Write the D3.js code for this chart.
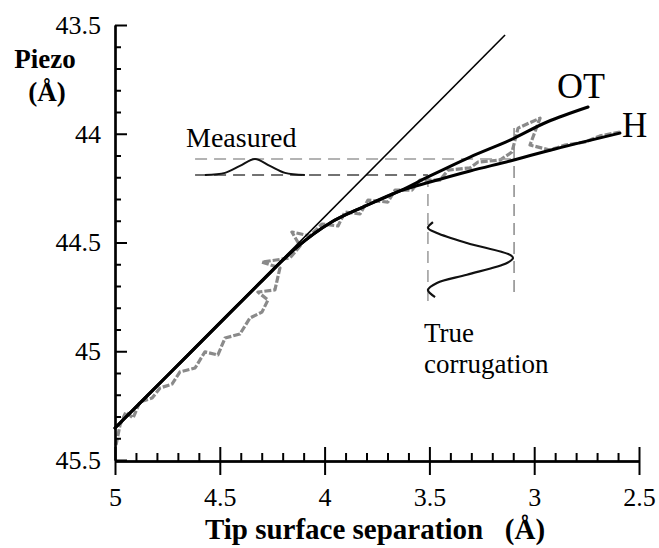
<!DOCTYPE html>
<html><head><meta charset="utf-8">
<script src="https://cdn.jsdelivr.net/npm/d3@7"></script>
<style>
body{margin:0;background:#fff}
text{font-family:"Liberation Serif","Times New Roman",serif;fill:#000}
</style>
</head><body>
<svg id="c" width="659" height="548"></svg>
<script>
// ---- tick values / labels
const xMajor = [5, 4.5, 4, 3.5, 3, 2.5];
const yMajor = [43.5, 44, 44.5, 45, 45.5];

// ---- model curves (Tip surface separation Å, Piezo Å)
const sepCommon   = [5, 4.752, 4.485, 4.294, 4.132, 3.974, 3.817, 3.640];
const piezoCommon = [45.353, 45.114, 44.856, 44.672, 44.521, 44.410, 44.337, 44.263];
const sepOT   = [3.497, 3.306, 3.115, 2.939, 2.743];
const piezoOT = [44.194, 44.107, 44.029, 43.946, 43.877];
const sepH    = [3.497, 3.306, 3.115, 2.901, 2.591];
const piezoH  = [44.222, 44.171, 44.125, 44.070, 43.997];
const sepLinear   = [5, 3.139];
const piezoLinear = [45.353, 43.546];

// ---- measured trace (gray)
const sepData = [4.995,4.976,4.948,4.914,4.881,4.823,4.785,4.728,4.690,4.618,4.571,4.509,4.475,4.404,4.356,4.299,4.270,4.318,4.237,4.213,4.299,4.165,4.117,4.156,4.070,4.012,3.936,3.903,3.831,3.793,3.698,3.664,3.583,3.545,3.449,3.411,3.306,3.268,3.163,3.106,3.077,2.972,3.020,2.925,2.853,2.758,2.686,2.591];
const piezoData = [45.431,45.339,45.279,45.307,45.233,45.215,45.169,45.151,45.095,45.077,45.003,45.017,44.939,44.921,44.847,44.820,44.764,44.728,44.718,44.617,44.590,44.571,44.516,44.452,44.470,44.415,44.424,44.360,44.369,44.305,44.314,44.259,44.259,44.213,44.213,44.167,44.157,44.130,44.121,44.084,43.974,43.928,44.052,44.075,44.052,44.038,44.010,43.992];

// ---- annotation guides
const measuredHi = 44.116, measuredLo = 44.190;
const trueLeft = 3.507, trueRight = 3.096;
const guideStartSep = 4.618;
const sepMeasured   = [4.571, 4.475, 4.404, 4.332, 4.261, 4.189, 4.094];
const piezoMeasured = [44.190, 44.180, 44.148, 44.116, 44.148, 44.180, 44.190];
const sepTrue   = [3.483, 3.507, 3.464, 3.321, 3.115, 3.101, 3.130, 3.321, 3.464, 3.507, 3.473];
const piezoTrue = [44.406, 44.433, 44.456, 44.502, 44.557, 44.571, 44.594, 44.648, 44.686, 44.718, 44.751];

const svg = d3.select("#c");
const x = d3.scaleLinear().domain([5, 2.5]).range([115, 639]);
const y = d3.scaleLinear().domain([43.5, 45.5]).range([25, 460]);

const xMinor = d3.range(1, 25).map(i => +(5 - i * 0.1).toFixed(1)).filter(v => !xMajor.includes(v));
const yMinor = d3.range(1, 20).map(i => +(43.5 + i * 0.1).toFixed(1)).filter(v => !yMajor.includes(v));

const zip = (a, b) => a.map((v, i) => [v, b[i]]);
const line = d3.line().x(d => x(d[0])).y(d => y(d[1]));

// measured data trace
svg.append("path").attr("d", line(zip(sepData, piezoData)))
  .attr("fill", "none").attr("stroke", "#8a8a8a").attr("stroke-width", 3.2)
  .attr("stroke-dasharray", "7,2").attr("stroke-linejoin", "round");

// dashed guides
const g = svg.append("g").attr("fill", "none").attr("stroke-width", 1.5).attr("stroke-dasharray", "12,7");
g.append("path").attr("d", line([[guideStartSep, measuredHi], [trueRight, measuredHi]])).attr("stroke", "#9a9a9a");
g.append("path").attr("d", line([[guideStartSep, measuredLo], [trueLeft, measuredLo]])).attr("stroke", "#444");
g.append("path").attr("d", line([[trueLeft, measuredLo], [trueLeft, 44.787]])).attr("stroke", "#9a9a9a");
g.append("path").attr("d", line([[trueRight, 43.974], [trueRight, 44.741]])).attr("stroke", "#8a8a8a");

// gaussians
const smooth = d3.line().x(d => x(d[0])).y(d => y(d[1])).curve(d3.curveCatmullRom);
svg.append("path").attr("d", smooth(zip(sepMeasured, piezoMeasured)))
  .attr("fill", "none").attr("stroke", "#111").attr("stroke-width", 2);
svg.append("path").attr("d", smooth(zip(sepTrue, piezoTrue)))
  .attr("fill", "none").attr("stroke", "#111").attr("stroke-width", 2.2);

// model curves
const otPts = zip(sepCommon, piezoCommon).concat(zip(sepOT, piezoOT));
const hPts = zip(sepCommon, piezoCommon).concat(zip(sepH, piezoH));
[otPts, hPts].forEach(p => svg.append("path").attr("d", smooth(p))
  .attr("fill", "none").attr("stroke", "#000").attr("stroke-width", 3).attr("stroke-linecap", "round"));
svg.append("path").attr("d", line(zip(sepLinear, piezoLinear)))
  .attr("fill", "none").attr("stroke", "#000").attr("stroke-width", 1.6);

// axes
const fmt = d => String(d);
svg.append("g").attr("transform", "translate(115,0)")
  .call(d3.axisLeft(y).tickValues(yMajor).tickSize(-12).tickSizeOuter(0).tickPadding(14).tickFormat(fmt));
svg.append("g").attr("transform", "translate(115,0)")
  .call(d3.axisLeft(y).tickValues(yMinor).tickSize(-6).tickSizeOuter(0).tickFormat(""));
svg.append("g").attr("transform", "translate(0,461)")
  .call(d3.axisBottom(x).tickValues(xMajor).tickSize(14).tickSizeOuter(0).tickPadding(13).tickFormat(fmt));
svg.append("g").attr("transform", "translate(0,461)")
  .call(d3.axisBottom(x).tickValues(xMajor).tickSize(-14).tickSizeOuter(0).tickFormat(""));
svg.append("g").attr("transform", "translate(0,461)")
  .call(d3.axisBottom(x).tickValues(xMinor).tickSize(-8).tickSizeOuter(0).tickFormat(""));
svg.selectAll(".domain").attr("stroke", "#000").attr("stroke-width", 2.2);
svg.selectAll(".tick line").attr("stroke", "#000").attr("stroke-width", 2);
svg.selectAll(".tick text").style("font-family", "'Liberation Serif','Times New Roman',serif")
  .style("font-size", "26px").attr("fill", "#222");

// titles & labels
svg.append("text").attr("x", 45).attr("y", 68).attr("text-anchor", "middle")
  .style("font-weight", "bold").style("font-size", "27px").text("Piezo");
svg.append("text").attr("x", 47).attr("y", 101).attr("text-anchor", "middle")
  .style("font-weight", "bold").style("font-size", "27px").text("(Å)");
svg.append("text").attr("x", 375).attr("y", 539).attr("text-anchor", "middle")
  .style("font-weight", "bold").style("font-size", "29px").style("white-space", "pre")
  .text("Tip surface separation   (Å)");
svg.append("text").attr("x", 186).attr("y", 147).style("font-size", "28px").text("Measured");
svg.append("text").attr("x", 557).attr("y", 98).style("font-size", "36px").text("OT");
svg.append("text").attr("x", 622).attr("y", 137).style("font-size", "35px").text("H");
svg.append("text").attr("x", 424).attr("y", 342).style("font-size", "27px").text("True");
svg.append("text").attr("x", 424).attr("y", 373).style("font-size", "27px").text("corrugation");
</script>
</body></html>
